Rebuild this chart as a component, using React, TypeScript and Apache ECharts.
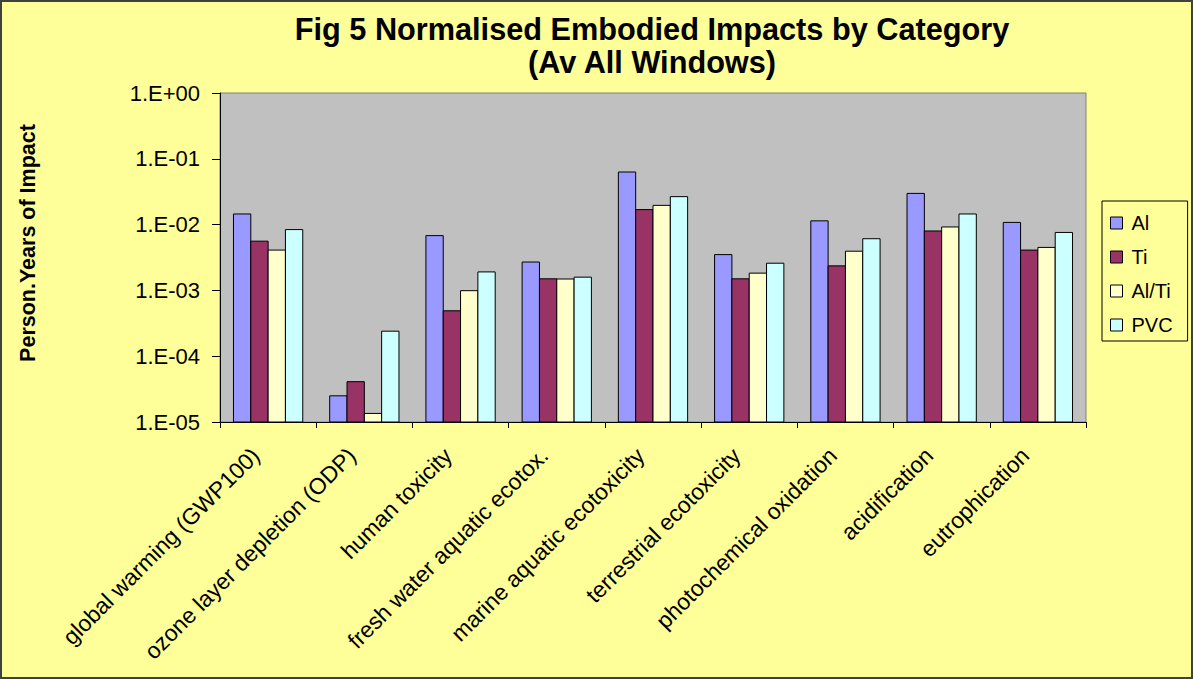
import React, { useEffect, useRef } from "react";
import * as echarts from "echarts";

const categories = [
  "global warming (GWP100)",
  "ozone layer depletion (ODP)",
  "human toxicity",
  "fresh water aquatic ecotox.",
  "marine aquatic ecotoxicity",
  "terrestrial ecotoxicity",
  "photochemical oxidation",
  "acidification",
  "eutrophication",
];

const seriesNames = ["Al", "Ti", "Al/Ti", "PVC"];

const alValues = [0.0145, 0.000025, 0.0068, 0.0027, 0.063, 0.0035, 0.0114, 0.0298, 0.0108];
const tiValues = [0.0056, 0.000041, 0.00049, 0.0015, 0.0169, 0.0015, 0.00236, 0.008, 0.0041];
const alTiValues = [0.0041, 0.0000135, 0.00099, 0.00149, 0.0196, 0.00183, 0.00394, 0.0092, 0.0045];
const pvcValues = [0.0084, 0.00024, 0.00191, 0.00159, 0.0266, 0.00259, 0.0061, 0.0145, 0.0076];

const seriesColors = ["#9999FF", "#993366", "#FFFFCC", "#CCFFFF"];

const yMin = 0.00001;
const yMax = 1;

const titleLines = ["Fig 5 Normalised Embodied Impacts by Category", "(Av All Windows)"];
const yAxisTitle = "Person.Years of Impact";

const FONT = "'Liberation Sans', Arial, sans-serif";

function formatExp(v: number): string {
  const e = Math.round(Math.log10(v));
  const sign = e < 0 ? "-" : "+";
  return `1.E${sign}${String(Math.abs(e)).padStart(2, "0")}`;
}

export default function App() {
  const ref = useRef<HTMLDivElement>(null);
  useEffect(() => {
    if (!ref.current) return;
    const chart = echarts.init(ref.current, undefined, { renderer: "svg" });
    const allValues = [alValues, tiValues, alTiValues, pvcValues];
    const nSeries = seriesNames.length;
    const groupFrac = 0.72;

    const makeRender = (sIdx: number) => (params: any, api: any) => {
      const cat = api.value(0);
      const val = api.value(1);
      const band = api.size([1, 0])[0];
      const groupW = band * groupFrac;
      const barW = groupW / nSeries;
      const top = api.coord([cat, val]);
      const base = api.coord([cat, yMin]);
      const x0 = top[0] - groupW / 2 + sIdx * barW;
      return {
        type: "rect",
        shape: { x: x0, y: top[1], width: barW, height: base[1] - top[1] },
        style: { fill: seriesColors[sIdx], stroke: "#000", lineWidth: 1 },
      };
    };

    chart.setOption({
      animation: false,
      backgroundColor: "#FFFF99",
      textStyle: { fontFamily: FONT, color: "#000" },
      grid: {
        left: 220,
        top: 93,
        right: 107,
        bottom: 257,
        show: true,
        backgroundColor: "#C0C0C0",
        borderColor: "#808080",
        borderWidth: 1,
      },
      legend: {
        orient: "vertical",
        left: 1102,
        top: 201,
        padding: [12, 15, 6, 8],
        itemGap: 14,
        itemWidth: 12,
        itemHeight: 12,
        icon: "rect",
        backgroundColor: "#FFFF99",
        borderColor: "#000",
        borderWidth: 1,
        borderRadius: 0,
        itemStyle: { borderColor: "#000", borderWidth: 1 },
        textStyle: { fontSize: 20, fontFamily: FONT, color: "#000", padding: [0, 0, 0, 4] },
        data: seriesNames,
      },
      xAxis: {
        type: "category",
        data: categories,
        axisLine: { lineStyle: { color: "#000", width: 1 } },
        axisTick: { show: true, length: 6, lineStyle: { color: "#000" } },
        axisLabel: {
          rotate: 45,
          fontSize: 22.8,
          fontFamily: FONT,
          color: "#000",
          margin: 17,
          padding: [0, 18, 0, 0],
          interval: 0,
        },
        splitLine: { show: false },
      },
      yAxis: {
        type: "log",
        logBase: 10,
        min: yMin,
        max: yMax,
        axisLine: { show: true, lineStyle: { color: "#000", width: 1 } },
        axisTick: { show: true, length: 8, lineStyle: { color: "#000" } },
        axisLabel: {
          fontSize: 22,
          fontFamily: FONT,
          color: "#000",
          margin: 20,
          formatter: (v: number) => formatExp(v),
        },
        splitLine: { show: false },
        minorTick: { show: false },
      },
      series: seriesNames.map((name, i) => ({
        name,
        type: "custom",
        renderItem: makeRender(i),
        encode: { x: 0, y: 1 },
        data: allValues[i].map((v, j) => [j, v]),
        itemStyle: { color: seriesColors[i], borderColor: "#000", borderWidth: 1 },
        clip: true,
      })),
      graphic: [
        {
          type: "rect",
          shape: { x: 1, y: 1, width: 1191, height: 677 },
          style: { fill: "none", stroke: "#404040", lineWidth: 2 },
          silent: true,
          z: 100,
        },
        {
          type: "text",
          x: 652,
          y: 29,
          style: {
            text: titleLines[0],
            font: `bold 30.7px ${FONT}`,
            fill: "#000",
            textAlign: "center",
            textVerticalAlign: "middle",
          },
        },
        {
          type: "text",
          x: 652,
          y: 62,
          style: {
            text: titleLines[1],
            font: `bold 30.7px ${FONT}`,
            fill: "#000",
            textAlign: "center",
            textVerticalAlign: "middle",
          },
        },
        {
          type: "text",
          x: 28,
          y: 243,
          rotation: Math.PI / 2,
          style: {
            text: yAxisTitle,
            font: `bold 21.5px ${FONT}`,
            fill: "#000",
            textAlign: "center",
            textVerticalAlign: "middle",
          },
        },
      ],
    });
    return () => chart.dispose();
  }, []);
  return (
    <div
      ref={ref}
      style={{ position: "absolute", left: 0, top: 0, width: 1193, height: 679 }}
    />
  );
}
